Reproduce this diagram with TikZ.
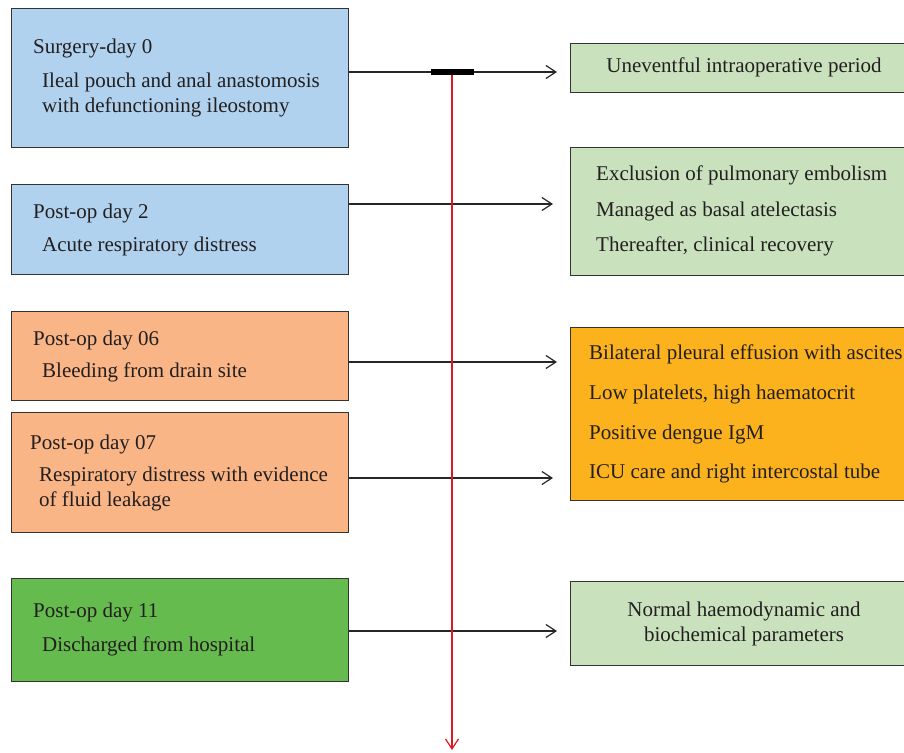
\documentclass[tikz,border=0pt]{standalone}
\usepackage{fontspec}
\setmainfont{Liberation Serif}
\usetikzlibrary{arrows.meta}
\definecolor{blueF}{HTML}{B0D2EE}
\definecolor{orangeL}{HTML}{F9B586}
\definecolor{greenL}{HTML}{65BB4D}
\definecolor{greenR}{HTML}{C9E2BD}
\definecolor{orangeR}{HTML}{FBB21C}
\definecolor{edgeC}{HTML}{333333}
\definecolor{redL}{HTML}{E0161E}
\definecolor{txtC}{HTML}{231F20}
\begin{document}
\begin{tikzpicture}[x=1pt,y=-1pt,
 box/.style={draw=edgeC, line width=1.2pt, inner sep=0pt, anchor=north west},
 txt/.style={anchor=base west, inner sep=0pt, font=\fontsize{21}{24}\selectfont, text=txtC},
 ctxt/.style={anchor=base, inner sep=0pt, font=\fontsize{21}{24}\selectfont, text=txtC},
 arr/.style={draw=black!85, line width=1.2pt, -{Straight Barb[length=10pt,width=13pt]}}
]
\useasboundingbox (0,0) rectangle (904,752);
\clip (0,0) rectangle (904,752);
% left boxes
\node[box, fill=blueF, minimum width=337pt, minimum height=139pt] (b1) at (11,8) {};
\node[box, fill=blueF, minimum width=337pt, minimum height=90pt] (b2) at (11,184) {};
\node[box, fill=orangeL, minimum width=337pt, minimum height=89pt] (b3) at (11,311) {};
\node[box, fill=orangeL, minimum width=337pt, minimum height=120pt] (b4) at (11,412) {};
\node[box, fill=greenL, minimum width=337pt, minimum height=103pt] (b5) at (11,578) {};
% right boxes
\node[box, fill=greenR, minimum width=345pt, minimum height=49pt] (r1) at (570,43) {};
\node[box, fill=greenR, minimum width=345pt, minimum height=128pt] (r2) at (570,147) {};
\node[box, fill=orangeR, minimum width=345pt, minimum height=173pt] (r3) at (570,327) {};
\node[box, fill=greenR, minimum width=345pt, minimum height=84pt] (r4) at (570,581) {};
% left texts
\node[txt] (t1a) at (33,53) {Surgery-day 0};
\node[txt] (t1b) at (42,87) {Ileal pouch and anal anastomosis};
\node[txt] (t1c) at (42,112) {with defunctioning ileostomy};
\node[txt] (t2a) at (33,218) {Post-op day 2};
\node[txt] (t2b) at (42,251) {Acute respiratory distress};
\node[txt] (t3a) at (33,345) {Post-op day 06};
\node[txt] (t3b) at (42,377) {Bleeding from drain site};
\node[txt] (t4a) at (30,449) {Post-op day 07};
\node[txt] (t4b) at (39,481) {Respiratory distress with evidence};
\node[txt] (t4c) at (39,506) {of fluid leakage};
\node[txt] (t5a) at (33,617) {Post-op day 11};
\node[txt] (t5b) at (42,651) {Discharged from hospital};
% right texts
\node[ctxt] (u1) at (744,73) {Uneventful intraoperative period};
\node[txt] (u2a) at (596,180) {Exclusion of pulmonary embolism};
\node[txt] (u2b) at (596,216) {Managed as basal atelectasis};
\node[txt] (u2c) at (596,251) {Thereafter, clinical recovery};
\node[txt] (u3a) at (589,359) {Bilateral pleural effusion with ascites};
\node[txt] (u3b) at (589,399) {Low platelets, high haematocrit};
\node[txt] (u3c) at (589,439) {Positive dengue IgM};
\node[txt] (u3d) at (589,478) {ICU care and right intercostal tube};
\node[ctxt] (u4a) at (744,616) {Normal haemodynamic and};
\node[ctxt] (u4b) at (744,641) {biochemical parameters};
% arrow ends
\coordinate (e1) at (557,72);
\coordinate (e2) at (553,204);
\coordinate (e3) at (557,362);
\coordinate (e4) at (553,478);
\coordinate (e5) at (557,631);
\draw[arr] (b1.east |- e1) -- (e1);
\draw[arr] (b2.east |- e2) -- (e2);
\draw[arr] (b3.east |- e3) -- (e3);
\draw[arr] (b4.east |- e4) -- (e4);
\draw[arr] (b5.east |- e5) -- (e5);
% timeline
\node[fill=black, minimum width=43pt, minimum height=6pt, inner sep=0pt] (bar) at (452.5,72) {};
\coordinate (rbot) at (452,750);
\draw[draw=redL, line width=1.2pt, -{Straight Barb[length=10pt,width=13pt]}] (bar.south -| rbot) -- (rbot);
\end{tikzpicture}
\end{document}
